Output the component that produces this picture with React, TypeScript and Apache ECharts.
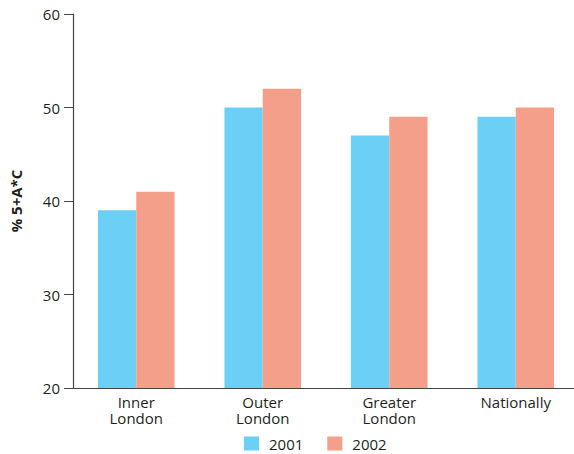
import React, { useEffect, useRef } from "react";
import * as echarts from "echarts";

const categories = ["Inner\nLondon", "Outer\nLondon", "Greater\nLondon", "Nationally"];
const values2001 = [39, 50, 47, 49];
const values2002 = [41, 52, 49, 50];
const seriesNames = ["2001", "2002"];
const yTicks = { min: 20, max: 60, interval: 10 };

export default function App() {
  const ref = useRef<HTMLDivElement>(null);
  useEffect(() => {
    if (!ref.current) return;
    const chart = echarts.init(ref.current, undefined, { renderer: "svg" });
    const font = "'Open Sans', 'Noto Sans', sans-serif";
    chart.setOption({
      animation: false,
      textStyle: { fontFamily: font },
      grid: { left: 70, right: 0, top: 14, bottom: 66, containLabel: false },
      legend: {
        top: 436,
        left: 244,
        padding: 0,
        itemWidth: 15,
        itemHeight: 14,
        itemGap: 24,
        icon: "rect",
        textStyle: { fontSize: 15, color: "#231F20", fontFamily: font, padding: [0, 0, 0, 5] },
        data: seriesNames,
      },
      xAxis: {
        type: "category",
        data: categories,
        axisLine: { lineStyle: { color: "#444", width: 1.2 } },
        axisTick: { show: false },
        axisLabel: { fontSize: 15, color: "#231F20", lineHeight: 16, margin: 6, fontFamily: font },
      },
      yAxis: {
        type: "value",
        min: yTicks.min,
        max: yTicks.max,
        interval: yTicks.interval,
        name: "% 5+A*C",
        nameLocation: "middle",
        nameRotate: 90,
        nameGap: 50,
        nameTextStyle: { fontSize: 15, fontWeight: "bold", color: "#231F20", fontFamily: font },
        axisLine: { show: true, lineStyle: { color: "#444", width: 1.2 } },
        axisTick: { show: true, length: 9, lineStyle: { color: "#444" } },
        splitLine: { show: false },
        axisLabel: { fontSize: 15, color: "#231F20", margin: 13, fontFamily: font },
      },
      series: [
        {
          name: seriesNames[0],
          type: "bar",
          data: values2001,
          barWidth: 38.3,
          barGap: "0%",
          itemStyle: { color: "#6CCFF6" },
        },
        {
          name: seriesNames[1],
          type: "bar",
          data: values2002,
          barWidth: 38.3,
          barGap: "0%",
          itemStyle: { color: "#F49F8A" },
        },
      ],
    });
    return () => chart.dispose();
  }, []);
  return (
    <div style={{ width: 574, height: 454, position: "absolute", left: 0, top: 0, overflow: "hidden" }}>
      <div ref={ref} style={{ width: 579, height: 454 }} />
    </div>
  );
}
